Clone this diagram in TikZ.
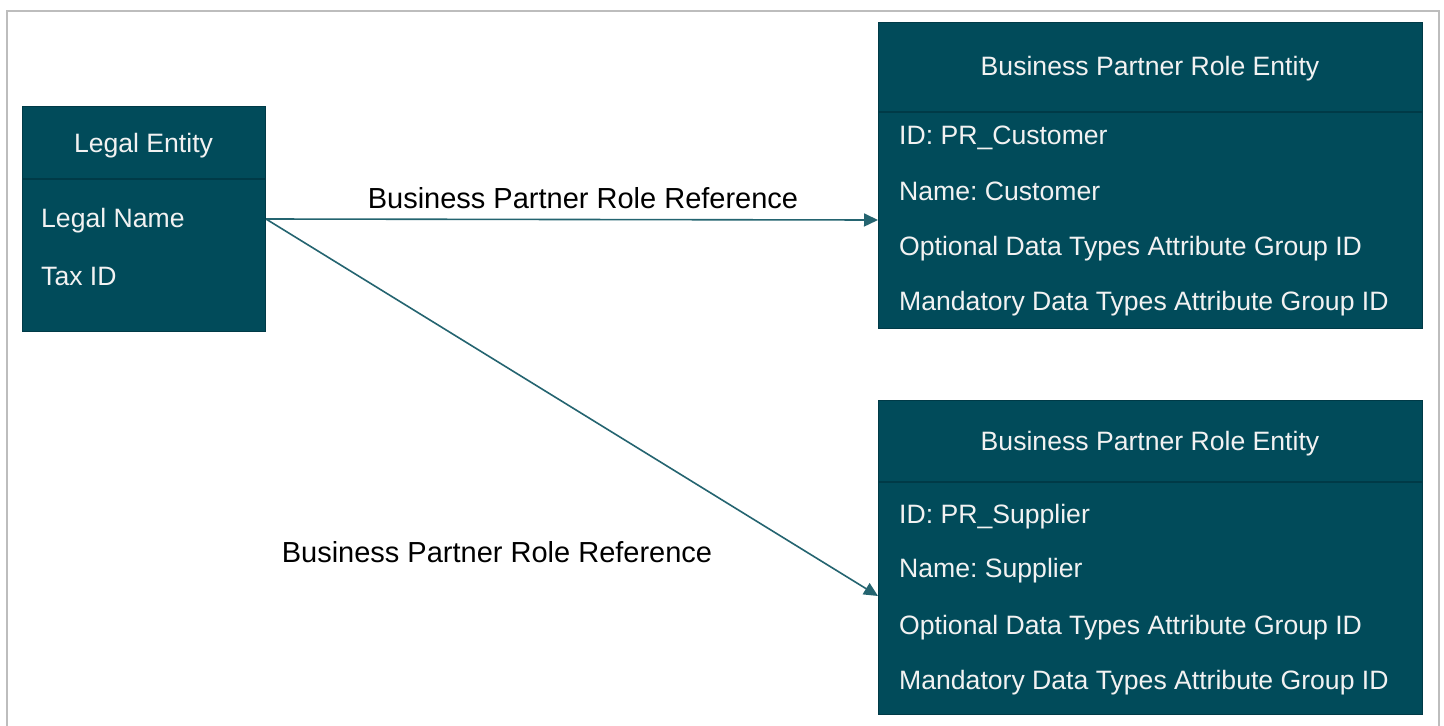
\documentclass[tikz,border=0pt]{standalone}
\usepackage{fontspec}
\setmainfont{Liberation Sans}
\frenchspacing
\usetikzlibrary{arrows.meta}
\definecolor{boxfill}{HTML}{014B5A}
\definecolor{boxline}{HTML}{003A47}
\definecolor{linkcol}{HTML}{246470}
\definecolor{framecol}{HTML}{BDBDBD}
\definecolor{txtcol}{HTML}{F2F2F2}
\tikzset{
  entbox/.style={draw=boxline, line width=1pt, fill=boxfill, inner sep=0pt, anchor=north west},
  divider/.style={draw=boxline, line width=1.6pt},
  hdrtext/.style={text=txtcol, font=\fontsize{26.6}{30}\selectfont, inner sep=0pt, anchor=center},
  rowtext/.style={text=txtcol, font=\fontsize{26.6}{30}\selectfont, inner sep=0pt, anchor=west},
  lbltext/.style={text=black, font=\fontsize{29}{33}\selectfont, inner sep=0pt, anchor=center},
  link/.style={draw=linkcol, line width=1.6pt, -{Triangle[length=14pt,width=13pt]}},
}
\begin{document}
\begin{tikzpicture}[x=1pt,y=-1pt]
\useasboundingbox (0,0) rectangle (1444,726);
\fill[white] (0,0) rectangle (1444,726);
\draw[framecol, line width=1.5pt] (7,11) -- (1439,11) -- (1439,740) -- (7,740) -- cycle;

% Legal entity
\node[entbox, minimum width=243pt, minimum height=225pt] (le) at (22,106) {};
\draw[divider] (22,179) -- (265,179);
\node[hdrtext] (leh) at (143.5,146) {Legal Entity};
\node[rowtext] (le1) at (41,221) {Legal Name};
\node[rowtext] (le2) at (41,276) {Tax ID};

% Customer role
\node[entbox, minimum width=544pt, minimum height=306pt] (bp1) at (878,22) {};
\draw[divider] (878,112) -- (1422,112);
\node[hdrtext] (bp1h) at (1150,69) {Business Partner Role Entity};
\node[rowtext] (bp1a) at (899,138) {ID: PR\_Customer};
\node[rowtext] (bp1b) at (899,191) {Name: Customer};
\node[rowtext] (bp1c) at (899,249) {Optional Data Types Attribute Group ID};
\node[rowtext] (bp1d) at (899,304) {Mandatory Data Types Attribute Group ID};

% Supplier role
\node[entbox, minimum width=544pt, minimum height=314pt] (bp2) at (878,400) {};
\draw[divider] (878,482) -- (1422,482);
\node[hdrtext] (bp2h) at (1150,444) {Business Partner Role Entity};
\node[rowtext] (bp2a) at (899,517) {ID: PR\_Supplier};
\node[rowtext] (bp2b) at (899,571) {Name: Supplier};
\node[rowtext] (bp2c) at (899,628) {Optional Data Types Attribute Group ID};
\node[rowtext] (bp2d) at (899,683) {Mandatory Data Types Attribute Group ID};

% connectors
\coordinate (t1) at (878,220);
\coordinate (t2) at (878,596);
\draw[link] (le.east) -- (t1);
\draw[link] (le.east) -- (t2);
\node[lbltext] (l1) at (583,198) {Business Partner Role Reference};
\node[lbltext] (l2) at (497,552) {Business Partner Role Reference};
\end{tikzpicture}
\end{document}
